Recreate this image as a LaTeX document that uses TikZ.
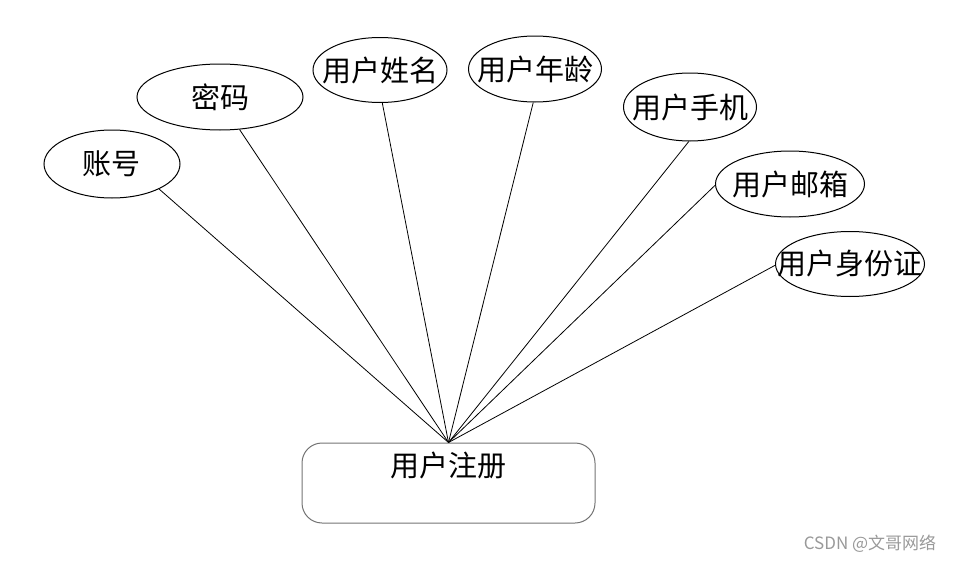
\documentclass[tikz,border=0pt]{standalone}
\usepackage{fontspec}
\newfontfamily\cjk{Noto Sans CJK SC}
\usetikzlibrary{shapes.geometric}
\tikzset{
  er attr/.style={draw=black, ellipse, inner sep=0pt, line width=0.5pt},
  er entity/.style={draw=black!55, rounded corners=10pt, inner sep=0pt,
    minimum width=146.5pt, minimum height=40pt, line width=0.5pt},
  er link/.style={draw=black, line width=0.4pt},
  er text/.style={font=\cjk\fontsize{14.5}{16}\selectfont},
}

\begin{document}
\begin{tikzpicture}[x=0.5pt, y=-0.5pt]
 \useasboundingbox (0,0) rectangle (954,562);
 % attributes
 \node[er attr, minimum width=68pt, minimum height=34pt, label={[er text]center:账号}] (acct) at (112,164) {};
 \node[er attr, minimum width=83pt, minimum height=33pt, label={[er text]center:密码}] (pwd) at (220,97) {};
 \node[er attr, minimum width=67pt, minimum height=32.5pt, label={[er text]center:用户姓名}] (name) at (380,70) {};
 \node[er attr, minimum width=66.5pt, minimum height=33pt, label={[er text]center:用户年龄}] (age) at (535,69) {};
 \node[er attr, minimum width=66.5pt, minimum height=34pt, label={[er text]center:用户手机}] (phone) at (690,107) {};
 \node[er attr, minimum width=74.5pt, minimum height=33pt, label={[er text]center:用户邮箱}] (mail) at (790,184) {};
 \node[er attr, minimum width=74.5pt, minimum height=32.5pt, label={[er text]center:用户身份证}] (idno) at (850,264) {};
 % entity
 \node[er entity, label={[er text, yshift=9pt]center:用户注册}] (reg) at (448.5,483) {};
 \foreach \a/\ang in {acct/-28, pwd/-59, name/-86, age/-93, phone/-92, mail/181, idno/181}
   \draw[er link] (\a.\ang) -- (reg.north);
 \node[font=\cjk\fontsize{8.5}{10}\selectfont, text=black!40] (mark) at (870,544) {CSDN @文哥网络};
\end{tikzpicture}
\end{document}
